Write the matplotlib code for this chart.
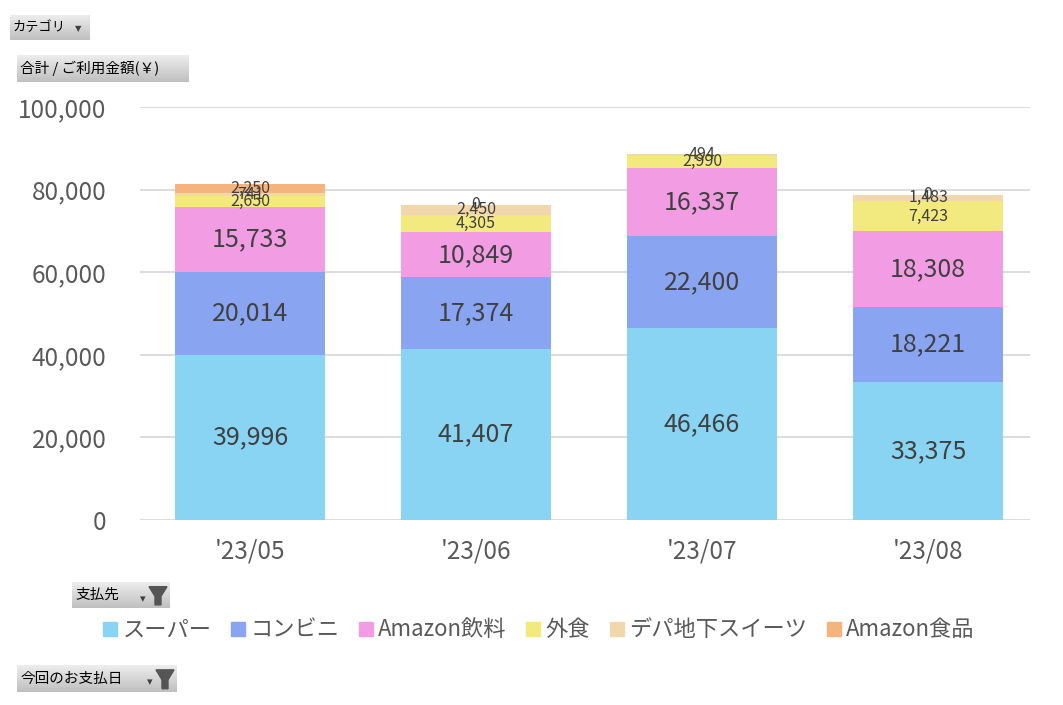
import numpy as np
import matplotlib
matplotlib.use("Agg")
import matplotlib.pyplot as plt
from matplotlib.lines import Line2D

plt.rcParams['font.family'] = ['Noto Sans CJK JP', 'DejaVu Sans']

months = ["'23/05", "'23/06", "'23/07", "'23/08"]
series = ["スーパー", "コンビニ", "Amazon飲料", "外食", "デパ地下スイーツ", "Amazon食品"]
super_ = [39996, 41407, 46466, 33375]
konbini = [20014, 17374, 22400, 18221]
amazon_drink = [15733, 10849, 16337, 18308]
gaishoku = [2650, 4305, 2990, 7423]
depachika = [741, 2450, 494, 1483]
amazon_food = [2250, 0, np.nan, 0]
values = [super_, konbini, amazon_drink, gaishoku, depachika, amazon_food]
colors = ["#89d4f3", "#89a4f0", "#f29ce3", "#f2e97f", "#f1d7ab", "#f5b47e"]
label_sizes = [18, 18, 18, 11.5, 11.5, 11.5]

W, H = 1063, 705
fig = plt.figure(figsize=(W/100, H/100), dpi=100)
ax = fig.add_axes([140/W, 1-520/H, 890/W, 413/H])

x = np.arange(len(months))
bottom = np.zeros(len(months))
for vals, col, name, fs in zip(values, colors, series, label_sizes):
    v = np.array(vals, dtype=float)
    vv = np.nan_to_num(v)
    ax.bar(x, vv, 0.665, bottom=bottom, color=col, label=name, zorder=2)
    for i in range(len(months)):
        if np.isnan(v[i]):
            continue
        ax.text(x[i], bottom[i] + vv[i]/2, f"{int(v[i]):,}", ha='center', va='center',
                fontsize=fs, color='#404040', zorder=3)
    bottom += vv

ax.set_ylim(0, 100000)
ax.set_xlim(-0.487, 3.451)
ax.set_yticks(np.arange(0, 100001, 20000))
ax.yaxis.set_major_formatter(matplotlib.ticker.FuncFormatter(lambda v, p: f"{int(v):,}"))
ax.grid(axis='y', color='#d9d9d9', linewidth=1.3, zorder=0)
for s in ax.spines.values():
    s.set_visible(False)
ax.tick_params(axis='both', length=0, labelsize=17.5, labelcolor='#595959')
ax.tick_params(axis='y', pad=24)
ax.tick_params(axis='x', pad=13)
ax.set_xticks(x)
ax.set_xticklabels(months)

handles = [Line2D([0], [0], marker='s', linestyle='none', markersize=10,
                  markerfacecolor=c, markeredgecolor=c) for c in colors]
fig.legend(handles, series, loc='center', bbox_to_anchor=(0.505, 1-630/H), ncol=6,
           frameon=False, fontsize=16, labelcolor='#595959', handletextpad=0.05,
           columnspacing=0.7, handlelength=1.0)

def button(x0, y0, x1, y1, text, fs=10.5, arrow=False, funnel=False):
    bax = fig.add_axes([x0/W, 1-y1/H, (x1-x0)/W, (y1-y0)/H])
    grad = np.linspace(0.93, 0.75, 50).reshape(-1, 1)
    bax.imshow(np.dstack([grad, grad, grad]), aspect='auto', extent=[0, 1, 0, 1])
    bax.set_xlim(0, 1); bax.set_ylim(0, 1)
    bax.axis('off')
    bax.text(3/(x1-x0), 0.5, text, ha='left', va='center', fontsize=fs, color='black')
    w = x1 - x0
    if arrow:
        bax.text(1 - 12/w, 0.45, '▼', ha='center', va='center', fontsize=6, color='#404040',
                 family='DejaVu Sans')
    if funnel:
        bax.text(1 - 27/w, 0.35, '▾', ha='center', va='center', fontsize=8, color='#404040',
                 family='DejaVu Sans')
        fx = 1 - 12/w
        bax.fill([fx-9/w, fx+9/w, fx+3/w, fx+3/w, fx-3/w, fx-3/w],
                 [0.82, 0.82, 0.45, 0.12, 0.12, 0.45], color='#555555')

button(10, 15, 90, 40, 'カテゴリ', fs=9.5, arrow=True)
button(17, 55, 188, 82, '合計 / ご利用金額(￥)')
button(72, 582, 170, 608, '支払先', funnel=True)
button(17, 665, 177, 692, '今回のお支払日', funnel=True)

fig.savefig('out.png', dpi=100)
